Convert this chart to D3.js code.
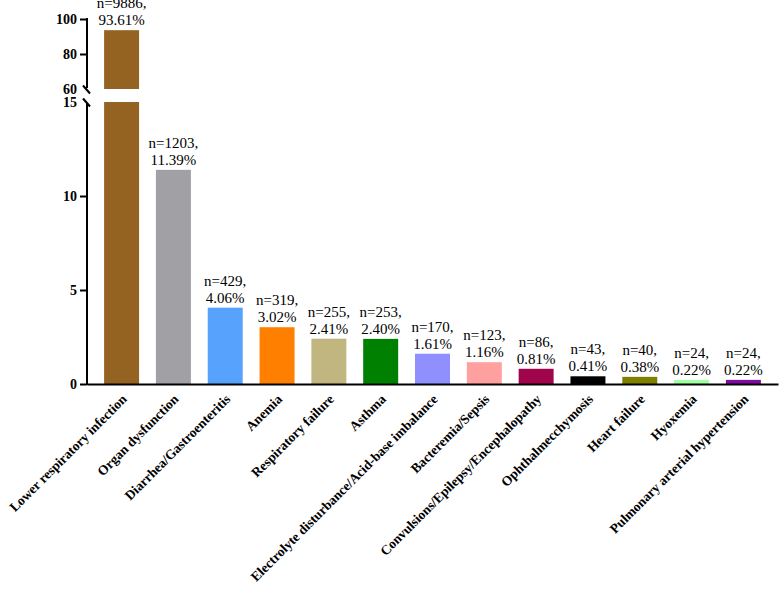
<!DOCTYPE html>
<html>
<head>
<meta charset="utf-8">
<script src="https://cdn.jsdelivr.net/npm/d3@7"></script>
<style>
  body { margin: 0; background: #fff; }
  .axis path, .axis line { stroke: #000; stroke-width: 2px; }
  .axis text { font-family: "Liberation Serif", serif; font-weight: bold; font-size: 14px; fill: #000; }
</style>
</head>
<body>
<div id="chart"></div>
<script>
// data
const categories = ["Lower respiratory infection", "Organ dysfunction", "Diarrhea/Gastroenteritis",
  "Anemia", "Respiratory failure", "Asthma", "Electrolyte disturbance/Acid-base imbalance",
  "Bacteremia/Sepsis", "Convulsions/Epilepsy/Encephalopathy", "Ophthalmecchymosis",
  "Heart failure", "Hyoxemia", "Pulmonary arterial hypertension"];
const counts = [9886, 1203, 429, 319, 255, 253, 170, 123, 86, 43, 40, 24, 24];
const percents = [93.61, 11.39, 4.06, 3.02, 2.41, 2.40, 1.61, 1.16, 0.81, 0.41, 0.38, 0.22, 0.22];
const colors = ["#946322", "#a1a0a5", "#56a2fc", "#ff8000", "#c1b67f", "#008000", "#8f8ffe",
  "#ffa0a0", "#a0044a", "#000000", "#808000", "#a0ffa0", "#7f0aa0"];
const topTicks = [60, 80, 100];
const bottomTicks = [0, 5, 10, 15];

const data = categories.map((c, i) => ({ name: c, n: counts[i], pct: percents[i], color: colors[i] }));

const svgWidth = 779, svgHeight = 597;
const breakLow = 15, breakHigh = 60;

const svg = d3.select('#chart')
    .append('svg')
    .attr('width', svgWidth)
    .attr('height', svgHeight);

// scales
const xScale = d3.scaleBand()
    .domain(categories)
    .range([87, 778])
    .paddingInner(0.325)
    .paddingOuter(0.33);

const yTop = d3.scaleLinear().domain([breakHigh, 100]).range([89, 19]);
const yBot = d3.scaleLinear().domain([0, breakLow]).range([384, 102]);

// bars (split at the break)
svg.selectAll('rect.low')
    .data(data)
    .join('rect')
    .attr('class', 'low')
    .attr('x', d => xScale(d.name))
    .attr('width', xScale.bandwidth())
    .attr('y', d => yBot(Math.min(d.pct, breakLow)))
    .attr('height', d => yBot(0) - yBot(Math.min(d.pct, breakLow)))
    .attr('fill', d => d.color);

svg.selectAll('rect.high')
    .data(data.filter(d => d.pct > breakHigh))
    .join('rect')
    .attr('class', 'high')
    .attr('x', d => xScale(d.name))
    .attr('width', xScale.bandwidth())
    .attr('y', d => yTop(d.pct))
    .attr('height', d => yTop(breakHigh) - yTop(d.pct))
    .attr('fill', d => d.color);

// value labels
const lab = svg.selectAll('text.val')
    .data(data)
    .join('text')
    .attr('class', 'val')
    .attr('text-anchor', 'middle')
    .style('font-family', '"Liberation Serif", serif')
    .style('font-size', '15px')
    .attr('transform', d => {
        const top = d.pct > breakHigh ? yTop(d.pct) : yBot(d.pct);
        return `translate(${xScale(d.name) + xScale.bandwidth() / 2},${top - 5})`;
    });
lab.append('tspan').attr('x', 0).attr('y', -17).text(d => 'n=' + d.n + ',');
lab.append('tspan').attr('x', 0).attr('y', 0).text(d => d.pct.toFixed(2) + '%');

// y axes
const gTop = svg.append('g')
    .attr('class', 'axis')
    .attr('transform', 'translate(87,0)')
    .call(d3.axisLeft(yTop).tickValues(topTicks).tickSize(7).tickSizeOuter(0).tickPadding(3));

const gBot = svg.append('g')
    .attr('class', 'axis')
    .attr('transform', 'translate(87,0)')
    .call(d3.axisLeft(yBot).tickValues(bottomTicks).tickSize(7).tickSizeOuter(0).tickPadding(3));

// break marks replace the ticks at the break values
gTop.selectAll('.tick').filter(d => d === breakHigh).select('line')
    .attr('x1', -4).attr('y1', -4).attr('x2', 3).attr('y2', 4);
gBot.selectAll('.tick').filter(d => d === breakLow).select('line')
    .attr('x1', -4).attr('y1', -4).attr('x2', 3).attr('y2', 4);
gTop.select('.domain').attr('d', `M0,${yTop(100) - 1}V${yTop(breakHigh) - 1}`);
gBot.select('.domain').attr('d', `M0,${yBot(breakLow) + 1}V${yBot(0) + 1}`);

// x axis
const gx = svg.append('g')
    .attr('class', 'axis')
    .attr('transform', `translate(0,${yBot(0)})`)
    .call(d3.axisBottom(xScale).tickSize(0).tickSizeOuter(0).tickPadding(0));

gx.selectAll('text')
    .style('font-size', '13.5px')
    .attr('y', 0)
    .attr('dy', 0)
    .attr('text-anchor', 'end')
    .attr('transform', 'translate(6,16) rotate(-45)');
</script>
</body>
</html>
